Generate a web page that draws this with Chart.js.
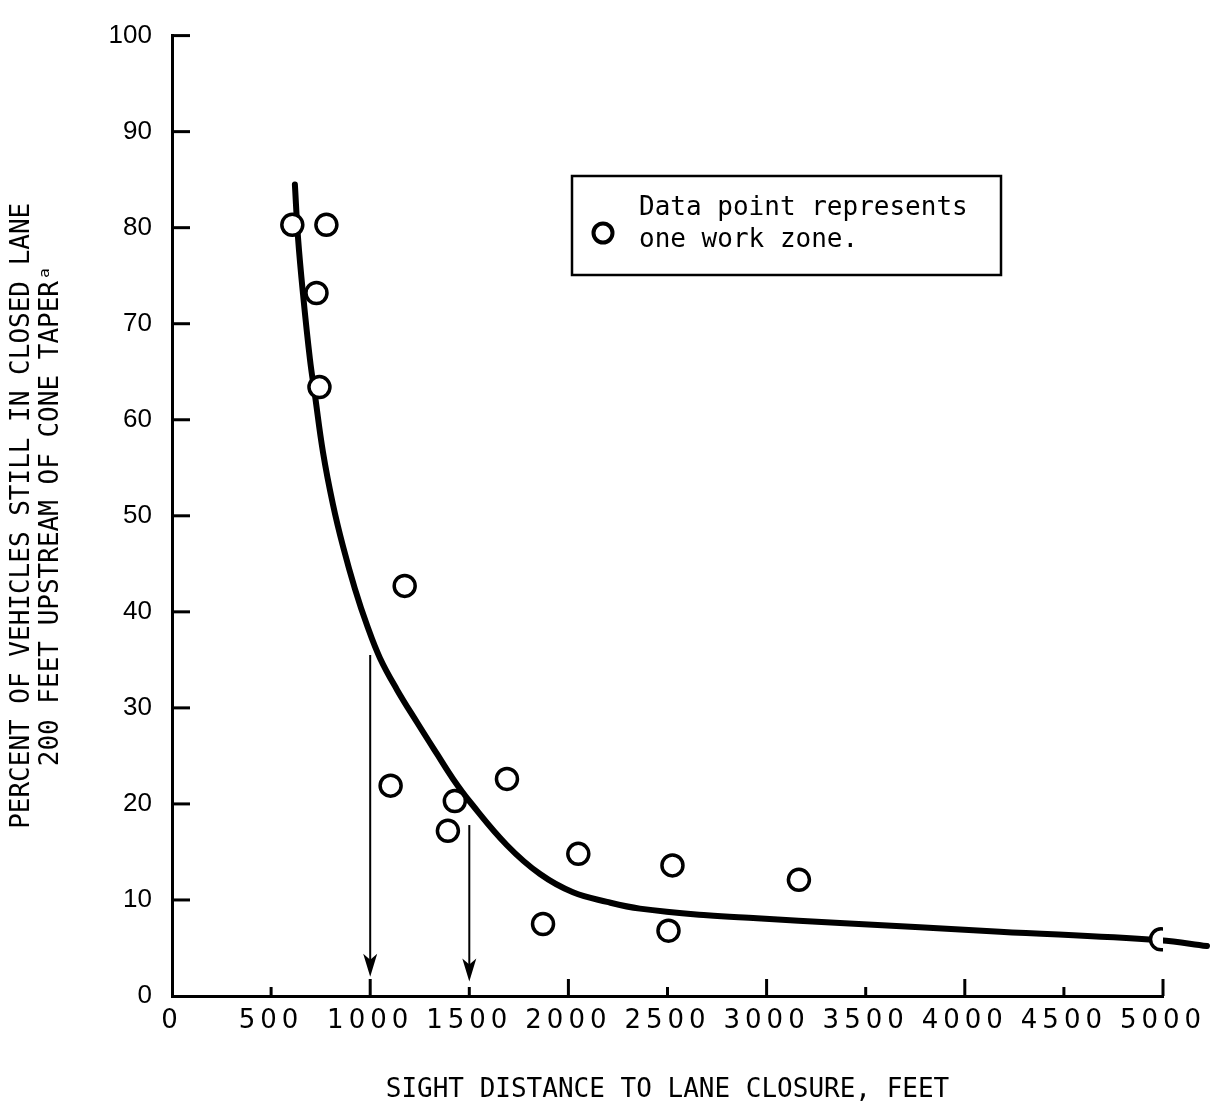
<!DOCTYPE html>
<html>
<head>
<meta charset="utf-8">
<script src="https://cdn.jsdelivr.net/npm/chart.js@4/dist/chart.umd.min.js"></script>
<style>
  html, body { margin: 0; padding: 0; background: #fff; }
  #wrap { width: 1213px; height: 1111px; }
</style>
</head>
<body>
<div id="wrap"><canvas id="chart-sight" width="1213" height="1111"></canvas></div>
<script>
// work zones (one circle each)
const zoneDistance = [607, 779, 729, 744, 1174, 1103, 1392, 1427, 1690, 1872, 2050, 2505, 2525, 3163, 4990];
const zonePercent  = [80.3, 80.3, 73.2, 63.4, 42.7, 21.9, 17.2, 20.3, 22.6, 7.5, 14.8, 6.8, 13.6, 12.1, 5.9];

// fitted curve
const curveDistance = [620, 636, 661, 696, 721, 762, 812, 863, 923, 984, 1049, 1135, 1236, 1337, 1418, 1504, 1690, 1857, 2023, 2195, 2361, 2699, 2952, 3370, 4177, 4984, 5222];
const curvePercent  = [84.5, 78.9, 73.1, 66.3, 62.6, 56.6, 51.2, 46.8, 42.4, 38.6, 35.2, 31.9, 28.5, 25.2, 22.6, 20.2, 15.7, 12.7, 10.8, 9.8, 9.1, 8.4, 8.1, 7.6, 6.7, 5.8, 5.2];

// the two arrows at 1000 and 1500 feet
const arrowDistance = [1000, 1500];
const arrowFrom = [35.5, 17.8];
const arrowTo = [2.0, 1.5];

const xTicks = [0, 500, 1000, 1500, 2000, 2500, 3000, 3500, 4000, 4500, 5000];
const yTicks = [0, 10, 20, 30, 40, 50, 60, 70, 80, 90, 100];

const monoFont = '"DejaVu Sans Mono", monospace';

// tick marks point inward on this figure, so draw them ourselves
const insideTicks = {
  id: 'insideTicks',
  afterDatasetsDraw(chart) {
    const ctx = chart.ctx;
    const {x, y} = chart.scales;
    const area = chart.chartArea;
    ctx.save();
    ctx.strokeStyle = '#000';
    ctx.lineWidth = 3;
    yTicks.forEach(v => {
      if (v === 0) return;
      const py = y.getPixelForValue(v);
      ctx.beginPath();
      ctx.moveTo(area.left, py);
      ctx.lineTo(area.left + 18, py);
      ctx.stroke();
    });
    xTicks.forEach(v => {
      if (v === 0) return;
      const px = x.getPixelForValue(v);
      const len = v % 1000 === 0 ? 17 : 9;
      ctx.beginPath();
      ctx.moveTo(px, area.bottom);
      ctx.lineTo(px, area.bottom - len);
      ctx.stroke();
    });

    // arrows
    ctx.lineWidth = 2;
    ctx.fillStyle = '#000';
    arrowDistance.forEach((d, i) => {
      const px = x.getPixelForValue(d);
      const top = y.getPixelForValue(arrowFrom[i]);
      const tip = y.getPixelForValue(arrowTo[i]);
      ctx.beginPath();
      ctx.moveTo(px, top);
      ctx.lineTo(px, tip - 10);
      ctx.stroke();
      ctx.beginPath();
      ctx.moveTo(px, tip);
      ctx.lineTo(px - 7, tip - 23);
      ctx.lineTo(px, tip - 17);
      ctx.lineTo(px + 7, tip - 23);
      ctx.closePath();
      ctx.fill();
    });
    ctx.restore();
  }
};

// boxed note in the upper right
const noteBox = {
  id: 'noteBox',
  afterDraw(chart) {
    const ctx = chart.ctx;
    ctx.save();
    ctx.strokeStyle = '#000';
    ctx.lineWidth = 2.5;
    ctx.strokeRect(572, 176, 429, 99);
    ctx.beginPath();
    ctx.arc(603, 233, 9.5, 0, Math.PI * 2);
    ctx.fillStyle = '#fff';
    ctx.fill();
    ctx.lineWidth = 4;
    ctx.stroke();
    ctx.fillStyle = '#000';
    ctx.font = '26px ' + monoFont;
    ctx.textBaseline = 'middle';
    ctx.fillText('Data point represents', 639, 208);
    ctx.fillText('one work zone.', 639, 240);
    ctx.restore();
  }
};

// wide spacing for the x tick numbers
const wideXLabels = {
  id: 'wideXLabels',
  beforeDraw(chart) {
    const xs = chart.scales.x;
    if (xs._wide) return;
    const orig = xs.drawLabels.bind(xs);
    xs.drawLabels = (ca) => {
      chart.ctx.save();
      chart.ctx.letterSpacing = '5px';
      orig(ca);
      chart.ctx.restore();
    };
    xs._wide = true;
  }
};

const configSight = {
  data: {
    datasets: [
      {
        type: 'scatter',
        data: zoneDistance.map((d, i) => ({x: d, y: zonePercent[i]})),
        pointRadius: 10.5,
        pointBorderWidth: 3.5,
        pointBorderColor: '#000',
        pointBackgroundColor: '#fff',
        pointHoverRadius: 10.5
      },
      {
        type: 'line',
        data: curveDistance.map((d, i) => ({x: d, y: curvePercent[i]})),
        borderColor: '#000',
        borderWidth: 6,
        pointRadius: 0,
        tension: 0.4,
        borderCapStyle: 'round',
        borderJoinStyle: 'round',
        clip: false,
        fill: false
      }
    ]
  },
  options: {
    responsive: false,
    animation: false,
    layout: { padding: { top: 21, right: 50, left: 0, bottom: 0 } },
    plugins: {
      legend: { display: false },
      tooltip: { enabled: false }
    },
    scales: {
      x: {
        type: 'linear',
        min: 0,
        max: 5000,
        afterBuildTicks: s => { s.ticks = xTicks.map(v => ({value: v})); },
        afterFit: s => { s.height = 115; },
        grid: { display: true, drawOnChartArea: false, drawTicks: false, color: 'transparent' },
        border: { display: true, color: '#000', width: 3 },
        ticks: {
          color: '#000',
          padding: 10,
          maxRotation: 0,
          autoSkip: false,
          callback: v => String(v),
          font: { family: '"DejaVu Sans", sans-serif', size: 26 }
        },
        title: {
          display: true,
          text: 'SIGHT DISTANCE TO LANE CLOSURE, FEET',
          color: '#000',
          font: { family: monoFont, size: 26 },
          padding: { top: 0, bottom: 5 }
        }
      },
      y: {
        min: 0,
        max: 100,
        afterBuildTicks: s => { s.ticks = yTicks.map(v => ({value: v})); },
        afterFit: s => { s.width = 172; },
        grid: { display: true, drawOnChartArea: false, drawTicks: false, color: 'transparent' },
        border: { display: true, color: '#000', width: 3 },
        ticks: {
          color: '#000',
          padding: 20,
          font: { family: '"Liberation Sans", sans-serif', size: 26 }
        },
        title: {
          display: true,
          text: ['PERCENT OF VEHICLES STILL IN CLOSED LANE', '200 FEET UPSTREAM OF CONE TAPER\u1D43'],
          color: '#000',
          font: { family: monoFont, size: 26, lineHeight: 1.1 },
          padding: { top: 8, bottom: 0 }
        }
      }
    }
  },
  plugins: [insideTicks, noteBox, wideXLabels]
};

const chartSight = new Chart(document.getElementById('chart-sight'), configSight);
</script>
</body>
</html>
